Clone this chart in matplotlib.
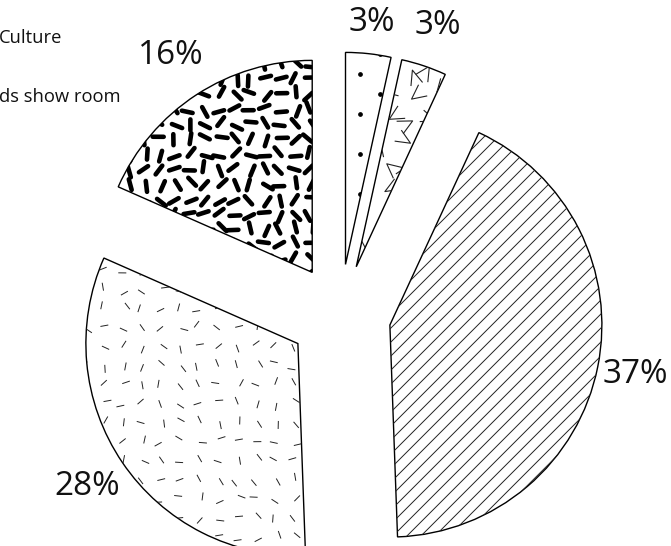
import numpy as np
import matplotlib.pyplot as plt
from matplotlib.collections import LineCollection

# --- data ---
shares = [3, 3, 37, 28, 16]
legend_texts = ['Culture', 'ds show room']

# --- layout (pixels) ---
W, H = 671, 546
CX, CY = 340, 315          # pie centre, measured from top-left
R = 212                    # pie radius
PX = 1.0 / R               # one pixel in data units
explode = [0.24] * len(shares)
label_dist = [1.15, 1.2, 1.18, 1.2, 1.22]

plt.rcParams['font.family'] = ['Open Sans', 'DejaVu Sans']

fig = plt.figure(figsize=(W / 100, H / 100), dpi=100)
ax = fig.add_axes([0, 0, 1, 1])

wedges, _ = ax.pie(
    shares, explode=explode, startangle=90, counterclock=False, radius=1,
    wedgeprops=dict(facecolor='white', edgecolor='black', linewidth=1.0),
)

ax.set_xlim(-CX / R, (W - CX) / R)
ax.set_ylim(-(H - CY) / R, CY / R)
ax.set_aspect('equal')
ax.axis('off')

# percentage labels outside each slice
for w, v, d in zip(wedges, shares, label_dist):
    mid = np.radians((w.theta1 + w.theta2) / 2)
    x = w.center[0] + d * np.cos(mid)
    y = w.center[1] + d * np.sin(mid)
    ax.text(x, y, f'{v}%', fontsize=24, color='#111111', ha='center', va='center')

rng = np.random.default_rng(7)


def grid_points(w, step, jit):
    cx, cy = w.center
    xs = np.arange(cx - w.r, cx + w.r + step * PX, step * PX)
    ys = np.arange(cy - w.r, cy + w.r + step * PX, step * PX)
    gx, gy = np.meshgrid(xs, ys)
    gx = gx.ravel() + rng.uniform(-jit, jit, gx.size) * PX
    gy = gy.ravel() + rng.uniform(-jit, jit, gy.size) * PX
    return gx, gy


def add_clipped(coll, w):
    coll.set_zorder(1.5)
    ax.add_collection(coll)
    coll.set_clip_path(w)


# --- textures ---
def dots(w):
    pts = []
    for j, y in enumerate(np.arange(-1.6, 1.6, 20 * PX)):
        off = (j % 2) * 20 * PX
        for x in np.arange(-1.7, 1.7, 40 * PX):
            pts.append((x + off, y))
    pts = np.array(pts)
    ln, = ax.plot(pts[:, 0], pts[:, 1], 'o', ms=2.4, color='black', zorder=1.5)
    ln.set_clip_path(w)


def chevrons(w):
    gx, gy = grid_points(w, 24, 5)
    segs = []
    arm = 16 * PX
    for x, y in zip(gx, gy):
        a = rng.uniform(0, 2 * np.pi)
        h = np.radians(rng.uniform(20, 30))
        p1 = (x + arm * np.cos(a + h), y + arm * np.sin(a + h))
        p2 = (x + arm * np.cos(a - h), y + arm * np.sin(a - h))
        segs.append([p1, (x, y), p2])
    add_clipped(LineCollection(segs, colors='#222222', linewidths=0.8), w)


def diagonals(w):
    cx, cy = w.center
    x1, x2 = cx - w.r, cx + w.r
    segs = []
    for c in np.arange(cy - cx - 2 * w.r, cy - cx + 2 * w.r, 14 * PX):
        segs.append([(x1, x1 + c), (x2, x2 + c)])
    add_clipped(LineCollection(segs, colors='#222222', linewidths=0.7), w)


def dashes(w, step, length, lw, color, cap):
    gx, gy = grid_points(w, step, step * 0.2)
    ang = rng.uniform(0, np.pi, gx.size)
    dx = np.cos(ang) * length * PX / 2
    dy = np.sin(ang) * length * PX / 2
    segs = [[(x - a, y - b), (x + a, y + b)] for x, y, a, b in zip(gx, gy, dx, dy)]
    add_clipped(LineCollection(segs, colors=color, linewidths=lw, capstyle=cap), w)


dots(wedges[0])
chevrons(wedges[1])
diagonals(wedges[2])
dashes(wedges[3], 19, 8, 0.7, '#222222', 'butt')
dashes(wedges[4], 15, 11, 3.3, 'black', 'round')

# --- legend text ---
for i, t in enumerate(legend_texts):
    fig.text(-1 / W, 1 - (38 + 59 * i) / H, t, fontsize=13.2, color='#111111',
             ha='left', va='center')

plt.savefig('out.png', dpi=100)
